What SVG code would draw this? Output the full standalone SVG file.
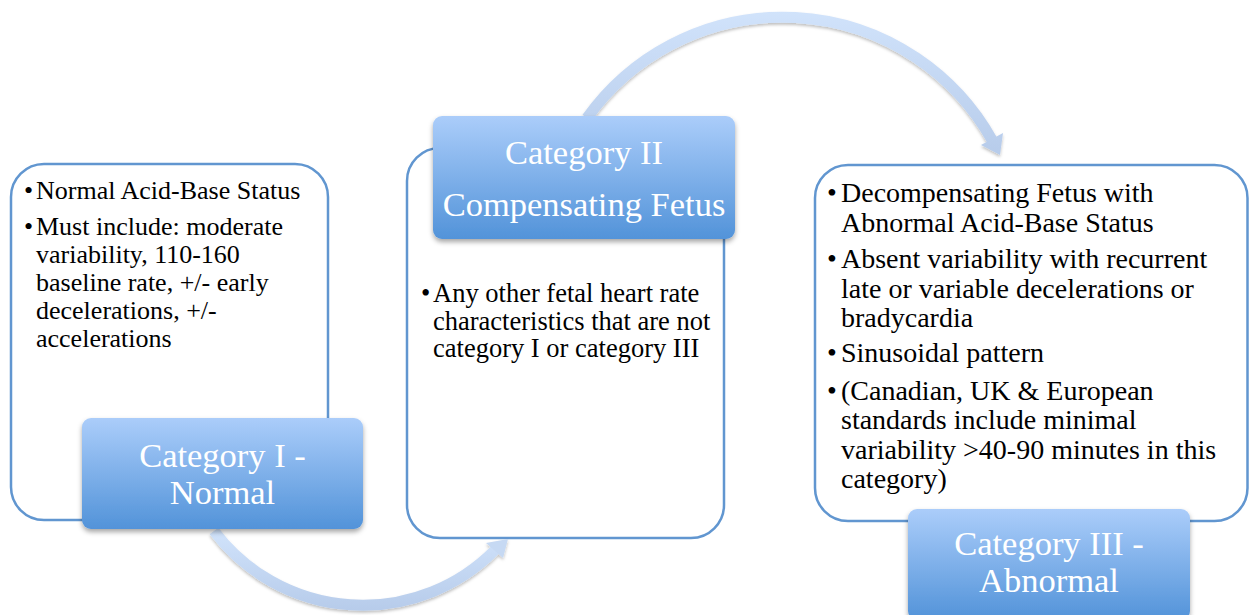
<svg xmlns="http://www.w3.org/2000/svg" width="1249" height="615" viewBox="0 0 1249 615">
<defs>
<linearGradient id="catGrad" x1="0" y1="0" x2="0" y2="1">
<stop offset="0" stop-color="#abcdfa"/>
<stop offset="1" stop-color="#5293d9"/>
</linearGradient>
<linearGradient id="arrTop" gradientUnits="userSpaceOnUse" x1="0" y1="10" x2="0" y2="160">
<stop offset="0" stop-color="#d1e3fb"/>
<stop offset="1" stop-color="#b6cbea"/>
</linearGradient>
<linearGradient id="arrBot" gradientUnits="userSpaceOnUse" x1="0" y1="530" x2="0" y2="612">
<stop offset="0" stop-color="#d1e3fb"/>
<stop offset="1" stop-color="#b6cbea"/>
</linearGradient>
<filter id="shadow" x="-10%" y="-10%" width="125%" height="135%">
<feDropShadow dx="0" dy="3" stdDeviation="2.5" flood-color="#000" flood-opacity="0.35"/>
</filter>
<filter id="ashadow" x="-10%" y="-10%" width="125%" height="135%">
<feDropShadow dx="0" dy="2" stdDeviation="1.5" flood-color="#000" flood-opacity="0.25"/>
</filter>
</defs>
<style>
.box{fill:#ffffff;stroke:#6196d0;stroke-width:2.5}
.cat{fill:url(#catGrad);filter:url(#shadow)}
.ct{font-family:"Liberation Serif","Times New Roman",serif;font-size:34.5px;fill:#ffffff;text-anchor:middle}
.b1{font-family:"Liberation Serif","Times New Roman",serif;font-size:26px;fill:#000000}
.b2{font-family:"Liberation Serif","Times New Roman",serif;font-size:26.5px;fill:#000000}
.b3{font-family:"Liberation Serif","Times New Roman",serif;font-size:28px;fill:#000000}
</style>

<g id="box1">
<rect class="box" x="11" y="164" width="317" height="356" rx="33" ry="33"/>
<text class="b1" x="24" y="199">•</text>
<text class="b1" x="36" y="199">Normal Acid-Base Status</text>
<text class="b1" x="24" y="235">•</text>
<text class="b1" x="36" y="235">Must include: moderate</text>
<text class="b1" x="36" y="263">variability, 110-160</text>
<text class="b1" x="36" y="291">baseline rate, +/- early</text>
<text class="b1" x="36" y="319">decelerations, +/-</text>
<text class="b1" x="36" y="347">accelerations</text>
</g>

<g id="box2">
<rect class="box" x="407" y="148" width="317" height="390" rx="33" ry="33"/>
<text class="b2" x="421" y="302">•</text>
<text class="b2" x="433" y="302">Any other fetal heart rate</text>
<text class="b2" x="433" y="329.5">characteristics that are not</text>
<text class="b2" x="433" y="357">category I or category III</text>
</g>

<g id="box3">
<rect class="box" x="815" y="165" width="432.5" height="356" rx="33" ry="33"/>
<text class="b3" x="827" y="202">•</text>
<text class="b3" x="841" y="202">Decompensating Fetus with</text>
<text class="b3" x="841" y="231.5">Abnormal Acid-Base Status</text>
<text class="b3" x="827" y="268">•</text>
<text class="b3" x="841" y="268">Absent variability with recurrent</text>
<text class="b3" x="841" y="297.5">late or variable decelerations or</text>
<text class="b3" x="841" y="327">bradycardia</text>
<text class="b3" x="827" y="362">•</text>
<text class="b3" x="841" y="362">Sinusoidal pattern</text>
<text class="b3" x="827" y="399.5">•</text>
<text class="b3" x="841" y="399.5">(Canadian, UK &amp; European</text>
<text class="b3" x="841" y="429">standards include minimal</text>
<text class="b3" x="841" y="458.5">variability &gt;40-90 minutes in this</text>
<text class="b3" x="841" y="488">category)</text>
</g>

<g id="connectors">
<g id="arrow-top" filter="url(#ashadow)">
<path d="M587,118 A240,240 0 0 1 992,140" fill="none" stroke="url(#arrTop)" stroke-width="11"/>
<polygon points="981,145 1003,133 1000,155" fill="url(#arrTop)"/>
</g>
<g id="arrow-bottom" filter="url(#ashadow)">
<path d="M214,531 A186,186 0 0 0 495,550" fill="none" stroke="url(#arrBot)" stroke-width="11"/>
<polygon points="486,543 503,558 508,539" fill="#c6d9f3"/>
</g>
</g>

<g id="cat1">
<rect class="cat" x="82" y="418" width="281" height="111" rx="9" ry="9"/>
<text class="ct" x="222.5" y="467">Category I -</text>
<text class="ct" x="222.5" y="504">Normal</text>
</g>

<g id="cat2">
<rect class="cat" x="433" y="116" width="302" height="123" rx="9" ry="9"/>
<text class="ct" x="584" y="163.5">Category II</text>
<text class="ct" x="584" y="216">Compensating Fetus</text>
</g>

<g id="cat3">
<rect class="cat" x="908" y="509" width="282" height="111" rx="9" ry="9"/>
<text class="ct" x="1049" y="555">Category III -</text>
<text class="ct" x="1049" y="592">Abnormal</text>
</g>
</svg>
